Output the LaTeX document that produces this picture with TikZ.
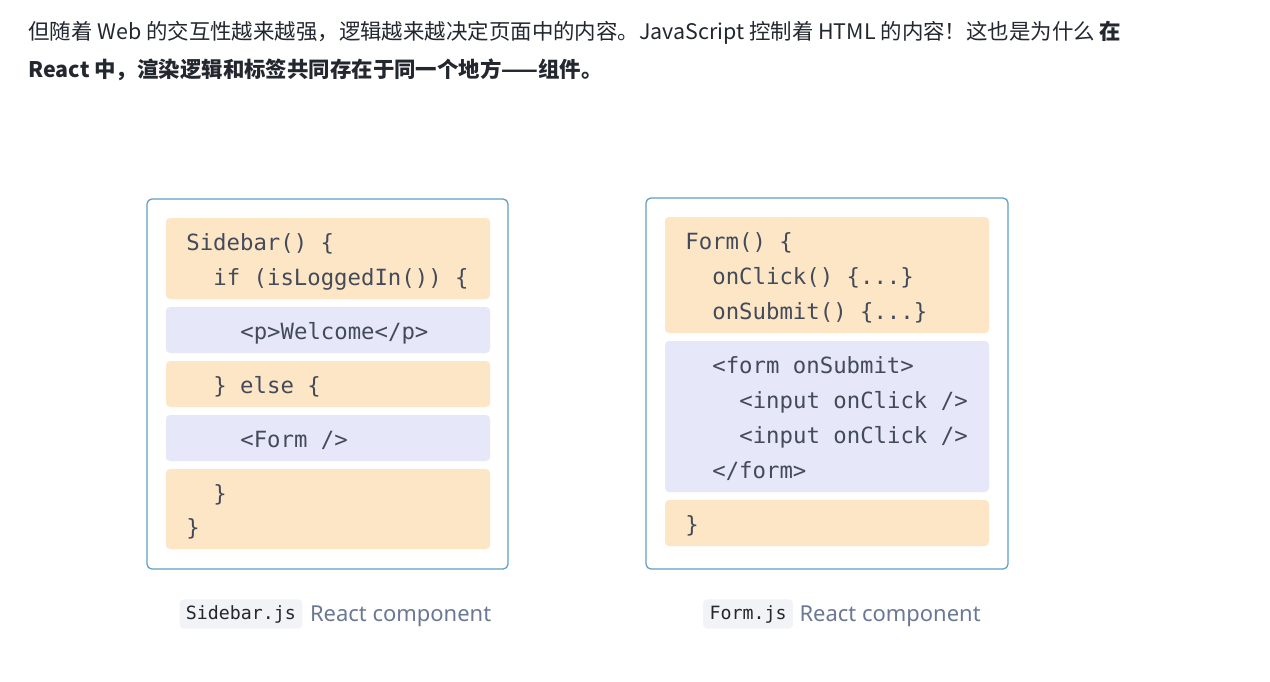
\documentclass[tikz,border=0pt]{standalone}
\usepackage{fontspec}
\setmainfont{Noto Sans}
\setmonofont{DejaVu Sans Mono}
\newfontfamily\cjk{Noto Sans CJK SC}
\usetikzlibrary{positioning}

\definecolor{peach}{HTML}{FDE6C6}
\definecolor{lavender}{HTML}{E6E7F8}
\definecolor{frameblue}{HTML}{5E9DC4}
\definecolor{codegray}{HTML}{434B5A}
\definecolor{textdark}{HTML}{23272F}
\definecolor{captiongray}{HTML}{6B7894}
\definecolor{pillgray}{HTML}{F2F3F6}

\tikzset{
  frame/.style={draw=frameblue, line width=0.7pt, rounded corners=2.8pt},
  orangeblk/.style={fill=peach, rounded corners=2.3pt},
  blueblk/.style={fill=lavender, rounded corners=2.3pt},
  code/.style={anchor=base west, inner sep=0pt, text=codegray, font=\ttfamily\fontsize{12.7}{14}\selectfont},
  para/.style={anchor=base west, inner sep=0pt, text=textdark, font=\cjk\fontsize{12.2}{14}\selectfont},
  pill/.style={fill=pillgray, rounded corners=2.3pt, text=textdark, inner xsep=3.6pt, minimum height=0.52cm, font=\ttfamily\fontsize{10.4}{12}\selectfont},
  caption/.style={inner sep=0pt, text=captiongray, font=\fontsize{12.5}{14}\selectfont},
}

\begin{document}
\begin{tikzpicture}[x=0.02cm, y=-0.02cm]
\fill[white] (0,0) rectangle (1270,681);
\useasboundingbox (0,0) rectangle (1270,681);

% intro text
\node[para] (line1) at (28,39) {但随着 Web 的交互性越来越强，逻辑越来越决定页面中的内容。JavaScript 控制着 HTML 的内容！这也是为什么 \textbf{在}};
\node[para] (line2) at (28,77) {\textbf{React 中，渲染逻辑和标签共同存在于同一个地方——组件。}};

% Sidebar component
\draw[frame] (147,199) rectangle (508,569);
\fill[orangeblk] (166,218) rectangle (490,299);
\fill[blueblk] (166,307) rectangle (490,353);
\fill[orangeblk] (166,361) rectangle (490,407);
\fill[blueblk] (166,415) rectangle (490,461);
\fill[orangeblk] (166,469) rectangle (490,549);
\node[code] (sb1) at (186,250) {Sidebar() \{};
\node[code] (sb2) at (213,285) {if (isLoggedIn()) \{};
\node[code] (sb3) at (240,339) {<p>Welcome</p>};
\node[code] (sb4) at (213,393) {\} else \{};
\node[code] (sb5) at (240,447) {<Form />};
\node[code] (sb6) at (213,501) {\}};
\node[code] (sb7) at (186,535) {\}};

% Form component
\draw[frame] (646,198) rectangle (1008,569);
\fill[orangeblk] (665,217) rectangle (989,333);
\fill[blueblk] (665,341) rectangle (989,492);
\fill[orangeblk] (665,500) rectangle (989,546);
\node[code] (fm1) at (685,249) {Form() \{};
\node[code] (fm2) at (712,284) {onClick() \{...\}};
\node[code] (fm3) at (712,319) {onSubmit() \{...\}};
\node[code] (fm4) at (712,373) {<form onSubmit>};
\node[code] (fm5) at (739,408) {<input onClick />};
\node[code] (fm6) at (739,443) {<input onClick />};
\node[code] (fm7) at (712,478) {</form>};
\node[code] (fm8) at (685,532) {\}};

% captions
\node[pill] (sbfile) at (241,614) {Sidebar.js};
\node[caption, right=0.14cm of sbfile, yshift=-1.5pt] (sbcap) {React component};
\node[pill] (fmfile) at (748,614) {Form.js};
\node[caption, right=0.12cm of fmfile, yshift=-1.5pt] (fmcap) {React component};
\end{tikzpicture}
\end{document}
